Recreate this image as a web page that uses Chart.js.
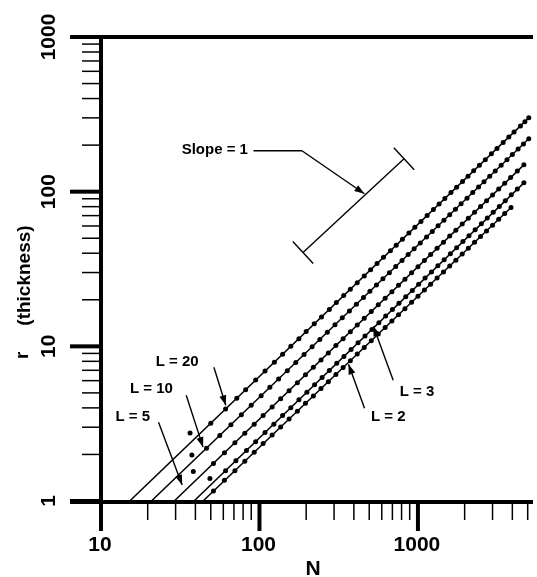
<!DOCTYPE html>
<html>
<head>
<meta charset="utf-8">
<script src="https://cdn.jsdelivr.net/npm/chart.js@4.4.1/dist/chart.umd.min.js"></script>
<style>
  html, body { margin: 0; padding: 0; background: #fff; }
  #wrap { width: 537px; height: 577px; position: relative; }
</style>
</head>
<body>
<div id="wrap"><canvas id="chart"></canvas></div>
<script>
// --- Data (N, r) ---
const n20 = [37, 50, 62, 73, 83, 96, 110, 126, 142, 160, 180, 200, 225, 250, 280, 310, 345, 380, 420, 465, 510, 560, 615, 680, 740, 810, 890, 970, 1060, 1160, 1270, 1380, 1500, 1640, 1780, 1940, 2100, 2280, 2480, 2700, 2950, 3200, 3500, 3800, 4100, 4500, 4800, 5080];
const r20 = [2.75, 3.18, 3.93, 4.62, 5.24, 6.05, 6.92, 7.90, 8.89, 10.0, 11.2, 12.45, 13.98, 15.5, 17.3, 19.2, 21.3, 23.4, 25.8, 28.5, 31.3, 34.3, 37.6, 41.5, 45.1, 49.3, 54.1, 58.8, 64.2, 70.2, 76.7, 83.2, 90.3, 98.6, 106.9, 116.3, 125.7, 136.3, 148.1, 161.1, 175.7, 190.3, 207.8, 225.4, 242.8, 266.1, 283.6, 300];

const n10 = [38, 47, 57, 67, 78, 90, 104, 118, 134, 152, 172, 194, 218, 244, 272, 304, 338, 375, 415, 460, 505, 555, 610, 670, 735, 805, 880, 960, 1050, 1150, 1250, 1360, 1480, 1610, 1750, 1900, 2070, 2250, 2450, 2650, 2880, 3120, 3400, 3700, 4000, 4350, 4700, 5080];
const r10 = [1.98, 2.19, 2.65, 3.11, 3.61, 4.16, 4.79, 5.43, 6.15, 6.96, 7.86, 8.85, 9.93, 11.09, 12.34, 13.77, 15.28, 16.93, 18.70, 20.70, 22.68, 24.89, 27.31, 29.96, 32.81, 35.89, 39.17, 42.67, 46.6, 50.9, 55.3, 60.1, 65.3, 71.0, 77.0, 83.5, 90.8, 98.6, 107.2, 115.8, 125.7, 136.0, 148.0, 160.8, 173.7, 188.6, 203.5, 219.8];

const n5 = [38.8, 52, 61, 71, 82, 94, 107, 122, 138, 156, 176, 198, 222, 248, 276, 308, 342, 380, 420, 465, 515, 570, 630, 695, 765, 840, 925, 1015, 1115, 1220, 1340, 1470, 1610, 1760, 1930, 2110, 2310, 2520, 2750, 3000, 3280, 3580, 3900, 4300, 4730];
const r5 = [1.55, 1.75, 2.05, 2.38, 2.74, 3.14, 3.57, 4.06, 4.58, 5.17, 5.82, 6.54, 7.32, 8.17, 9.07, 10.11, 11.21, 12.43, 13.72, 15.18, 16.78, 18.55, 20.46, 22.55, 24.79, 27.19, 29.89, 32.74, 35.93, 39.26, 43.07, 47.18, 51.6, 56.3, 61.7, 67.3, 73.6, 80.2, 87.4, 95.3, 104.0, 113.4, 123.4, 135.9, 149.3];

const n3 = [49.4, 62, 72, 84, 96, 110, 125, 142, 160, 180, 202, 226, 252, 280, 312, 346, 384, 425, 470, 520, 575, 635, 700, 770, 850, 935, 1025, 1125, 1235, 1355, 1485, 1625, 1780, 1950, 2130, 2330, 2550, 2780, 3030, 3310, 3610, 3940, 4300, 4730];
const r3 = [1.40, 1.57, 1.82, 2.12, 2.42, 2.77, 3.14, 3.57, 4.01, 4.51, 5.05, 5.65, 6.29, 6.98, 7.77, 8.61, 9.54, 10.54, 11.65, 12.87, 14.22, 15.69, 17.28, 18.98, 20.93, 22.99, 25.18, 27.62, 30.29, 33.19, 36.34, 39.72, 43.47, 47.57, 51.9, 56.7, 62.0, 67.6, 73.5, 80.3, 87.5, 95.4, 104.0, 114.3];

const n2 = [52, 61, 71, 82, 94, 107, 122, 138, 156, 176, 198, 222, 248, 276, 308, 342, 380, 420, 465, 515, 570, 630, 695, 765, 840, 925, 1015, 1115, 1220, 1340, 1470, 1610, 1760, 1930, 2110, 2310, 2520, 2750, 3000, 3280, 3580, 3925];
const r2 = [1.16, 1.36, 1.57, 1.81, 2.07, 2.35, 2.67, 3.01, 3.39, 3.81, 4.28, 4.78, 5.33, 5.91, 6.58, 7.29, 8.08, 8.91, 9.84, 10.87, 12.00, 13.23, 14.57, 16.00, 17.53, 19.26, 21.08, 23.11, 25.23, 27.64, 30.26, 33.07, 36.07, 39.49, 43.06, 47.04, 51.22, 55.78, 60.72, 66.24, 72.15, 78.9];

// fitted lines: start on r = 1, end at the last point
const lineNames = ['L = 20', 'L = 10', 'L = 5', 'L = 3', 'L = 2'];
const fitStartN = [15.4, 21.1, 29.4, 39.2, 44.7];
const fitEndN = [5080, 5080, 4730, 4730, 3925];
const fitEndR = [300, 220, 149, 114, 79];

// axis ticks
const xMajor = [10, 100, 1000];
const xMinor = [20, 30, 40, 50, 60, 70, 80, 90, 200, 300, 400, 500, 600, 700, 800, 900, 2000, 3000, 4000, 5000];
const yMajor = [1, 10, 100, 1000];
const yMinor = [2, 3, 4, 5, 6, 7, 8, 9, 20, 30, 40, 50, 60, 70, 80, 90, 200, 300, 400, 500, 600, 700, 800, 900];

// --- Annotation placement (data coordinates) ---
const labelPos = [[30.7, 7.88], [21.1, 5.28], [16.1, 3.48], [1000, 5.05], [659, 3.48]];
const arrowFrom = [[52.3, 7.32], [35.0, 4.83], [23.4, 3.23], [708, 6.04], [467, 3.98]];
const arrowTip = [[62.2, 4.16], [44.7, 2.23], [33.0, 1.27], [531, 13.5], [370, 7.65]];
const slopeText = [53, 187];
const slopeLeader = [[93, 184], [188, 184], [466, 97]];
const slopeBar = [[191, 40.4], [829, 163]];

const FONT = '"Liberation Sans", Arial, Helvetica, sans-serif';

function toPts(ns, rs) {
    return ns.map((n, i) => ({ x: n, y: rs[i] }));
}

const series = [[n20, r20], [n10, r10], [n5, r5], [n3, r3], [n2, r2]];
const datasets = [];
series.forEach((s, i) => {
    datasets.push({
        label: lineNames[i] + ' fit',
        data: [{ x: fitStartN[i], y: 1 }, { x: fitEndN[i], y: fitEndR[i] }],
        showLine: true,
        borderColor: '#000', borderWidth: 1.5, pointRadius: 0, fill: false
    });
    datasets.push({
        label: lineNames[i],
        data: toPts(s[0], s[1]),
        showLine: false, pointRadius: 2.5, pointBorderWidth: 0,
        pointBackgroundColor: '#000', pointBorderColor: '#000'
    });
});

function seg(ctx, x1, y1, x2, y2) {
    ctx.beginPath(); ctx.moveTo(x1, y1); ctx.lineTo(x2, y2); ctx.stroke();
}

function arrow(ctx, x1, y1, x2, y2) {
    seg(ctx, x1, y1, x2, y2);
    const a = Math.atan2(y2 - y1, x2 - x1);
    const len = 10, w = 3.5;
    ctx.beginPath();
    ctx.moveTo(x2, y2);
    ctx.lineTo(x2 - len * Math.cos(a) + w * Math.sin(a), y2 - len * Math.sin(a) - w * Math.cos(a));
    ctx.lineTo(x2 - len * Math.cos(a) - w * Math.sin(a), y2 - len * Math.sin(a) + w * Math.cos(a));
    ctx.closePath(); ctx.fill();
}

// axes, ticks, labels and notes drawn from the scales
const frame = {
    id: 'frame',
    afterDraw(chart) {
        const { ctx, chartArea: a, scales: { x, y } } = chart;
        const px = v => x.getPixelForValue(v);
        const py = v => y.getPixelForValue(v);
        ctx.save();
        ctx.strokeStyle = '#000'; ctx.fillStyle = '#000';
        ctx.lineCap = 'butt';

        // frame lines
        ctx.lineWidth = 4;
        seg(ctx, a.left - 30, a.top, a.right, a.top);
        seg(ctx, a.left + 1, a.top, a.left + 1, a.bottom);
        seg(ctx, a.left - 30, a.bottom + 1, a.right, a.bottom + 1);

        // major ticks
        xMajor.forEach(v => seg(ctx, px(v) + 1, a.bottom, px(v) + 1, a.bottom + 30));
        yMajor.forEach(v => seg(ctx, a.left - 30, py(v), a.left, py(v)));

        // minor ticks
        ctx.lineWidth = 1.5;
        xMinor.forEach(v => seg(ctx, px(v), a.bottom, px(v), a.bottom + 19));
        yMinor.forEach(v => seg(ctx, a.left - 18, py(v), a.left, py(v)));

        // tick labels
        ctx.font = 'bold 21px ' + FONT;
        ctx.textAlign = 'center'; ctx.textBaseline = 'middle';
        xMajor.forEach(v => ctx.fillText(String(v), px(v), a.bottom + 44));
        yMajor.forEach(v => {
            ctx.save();
            ctx.translate(a.left - 51, py(v));
            ctx.rotate(-Math.PI / 2);
            ctx.fillText(String(v), 0, 0);
            ctx.restore();
        });

        // axis titles
        ctx.fillText('N', 313, a.bottom + 68);
        ctx.font = 'bold 19px ' + FONT;
        ctx.save();
        ctx.translate(23, py(8.75));
        ctx.rotate(-Math.PI / 2);
        ctx.fillText('r', 0, 0);
        ctx.restore();
        ctx.save();
        ctx.translate(25, py(28.7));
        ctx.rotate(-Math.PI / 2);
        ctx.fillText('(thickness)', 0, 0);
        ctx.restore();

        // L labels with arrows
        ctx.font = 'bold 15px ' + FONT;
        ctx.lineWidth = 1.4;
        lineNames.forEach((t, i) => {
            ctx.fillText(t, px(labelPos[i][0]), py(labelPos[i][1]));
            arrow(ctx, px(arrowFrom[i][0]), py(arrowFrom[i][1]), px(arrowTip[i][0]), py(arrowTip[i][1]));
        });

        // slope note
        ctx.fillText('Slope = 1', px(slopeText[0]), py(slopeText[1]));
        const lp = slopeLeader.map(p => [px(p[0]), py(p[1])]);
        seg(ctx, lp[0][0], lp[0][1], lp[1][0], lp[1][1]);
        arrow(ctx, lp[1][0], lp[1][1], lp[2][0], lp[2][1]);
        const b1 = [px(slopeBar[0][0]), py(slopeBar[0][1])];
        const b2 = [px(slopeBar[1][0]), py(slopeBar[1][1])];
        seg(ctx, b1[0], b1[1], b2[0], b2[1]);
        const ang = Math.atan2(b2[1] - b1[1], b2[0] - b1[0]);
        const nx = -Math.sin(ang) * 15, ny = Math.cos(ang) * 15;
        [b1, b2].forEach(b => seg(ctx, b[0] - nx, b[1] - ny, b[0] + nx, b[1] + ny));

        ctx.restore();
    }
};

new Chart(document.getElementById('chart'), {
    type: 'scatter',
    data: { datasets: datasets },
    options: {
        responsive: true,
        maintainAspectRatio: false,
        animation: false,
        devicePixelRatio: 1,
        layout: { padding: { left: 100, top: 37, right: 0, bottom: 76 } },
        scales: {
            x: { type: 'logarithmic', min: 10, max: 5400, display: false },
            y: { type: 'logarithmic', min: 1, max: 1000, display: false }
        },
        plugins: { legend: { display: false }, tooltip: { enabled: false } }
    },
    plugins: [frame]
});
</script>
</body>
</html>
